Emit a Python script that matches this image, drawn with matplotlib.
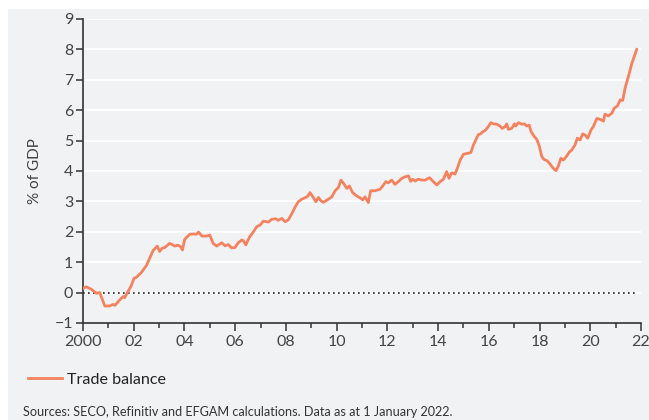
import matplotlib
matplotlib.use("Agg")
import matplotlib.pyplot as plt
from matplotlib.patches import Rectangle
from matplotlib.ticker import MultipleLocator, FixedLocator

# decimal-year dates and trade balance (% of GDP)
dates = [
    2000.00, 2000.13, 2000.33, 2000.52, 2000.66, 2000.86, 2001.05, 2001.18, 2001.26, 2001.45,
    2001.58, 2001.64, 2001.77, 2001.90, 2002.01, 2002.10, 2002.30, 2002.50, 2002.63, 2002.76,
    2002.93, 2003.02, 2003.12, 2003.22, 2003.42, 2003.62, 2003.75, 2003.85, 2003.92, 2004.01,
    2004.21, 2004.38, 2004.47, 2004.56, 2004.69, 2004.86, 2005.00, 2005.13, 2005.27, 2005.47,
    2005.60, 2005.73, 2005.86, 2005.99, 2006.12, 2006.26, 2006.32, 2006.42, 2006.56, 2006.72,
    2006.85, 2006.98, 2007.11, 2007.31, 2007.44, 2007.60, 2007.70, 2007.84, 2007.97, 2008.10,
    2008.23, 2008.36, 2008.49, 2008.62, 2008.75, 2008.84, 2008.95, 2009.08, 2009.18, 2009.28,
    2009.38, 2009.48, 2009.67, 2009.81, 2009.94, 2010.07, 2010.17, 2010.26, 2010.40, 2010.50,
    2010.63, 2010.79, 2010.92, 2011.03, 2011.12, 2011.25, 2011.34, 2011.51, 2011.71, 2011.82,
    2011.94, 2012.04, 2012.17, 2012.30, 2012.43, 2012.57, 2012.70, 2012.83, 2012.92, 2013.00,
    2013.09, 2013.22, 2013.36, 2013.49, 2013.66, 2013.79, 2013.95, 2014.08, 2014.21, 2014.34,
    2014.43, 2014.54, 2014.67, 2014.76, 2014.87, 2015.00, 2015.17, 2015.29, 2015.39, 2015.50,
    2015.59, 2015.67, 2015.76, 2015.85, 2015.98, 2016.08, 2016.18, 2016.31, 2016.44, 2016.53,
    2016.64, 2016.71, 2016.77, 2016.90, 2017.01, 2017.06, 2017.17, 2017.30, 2017.40, 2017.50,
    2017.59, 2017.67, 2017.78, 2017.89, 2017.99, 2018.09, 2018.18, 2018.31, 2018.41, 2018.54,
    2018.65, 2018.74, 2018.84, 2018.94, 2019.07, 2019.18, 2019.27, 2019.40, 2019.49, 2019.60,
    2019.70, 2019.80, 2019.90, 2020.03, 2020.12, 2020.26, 2020.39, 2020.52, 2020.58, 2020.71,
    2020.85, 2020.94, 2021.07, 2021.18, 2021.28, 2021.37, 2021.50, 2021.64, 2021.83,
]
trade_balance = [
    0.14, 0.19, 0.11, -0.02, 0.00, -0.44, -0.44, -0.39, -0.42, -0.24,
    -0.13, -0.17, 0.03, 0.22, 0.47, 0.50, 0.66, 0.89, 1.13, 1.38,
    1.53, 1.35, 1.46, 1.48, 1.62, 1.53, 1.56, 1.51, 1.40, 1.75,
    1.92, 1.93, 1.92, 1.99, 1.86, 1.86, 1.89, 1.62, 1.53, 1.64,
    1.54, 1.58, 1.47, 1.48, 1.64, 1.73, 1.71, 1.57, 1.82, 2.00,
    2.17, 2.22, 2.35, 2.32, 2.41, 2.43, 2.38, 2.44, 2.33, 2.40,
    2.59, 2.81, 2.99, 3.07, 3.12, 3.15, 3.29, 3.13, 2.99, 3.13,
    3.02, 2.97, 3.07, 3.15, 3.35, 3.46, 3.70, 3.61, 3.43, 3.51,
    3.29, 3.18, 3.12, 3.05, 3.15, 2.96, 3.35, 3.35, 3.40, 3.51,
    3.65, 3.61, 3.70, 3.56, 3.65, 3.76, 3.81, 3.84, 3.66, 3.73,
    3.67, 3.73, 3.70, 3.70, 3.78, 3.67, 3.54, 3.65, 3.73, 3.98,
    3.76, 3.94, 3.90, 4.09, 4.36, 4.55, 4.58, 4.61, 4.85, 5.05,
    5.20, 5.22, 5.29, 5.33, 5.46, 5.59, 5.55, 5.54, 5.48, 5.40,
    5.46, 5.55, 5.37, 5.40, 5.55, 5.48, 5.59, 5.54, 5.55, 5.48,
    5.51, 5.29, 5.15, 5.04, 4.82, 4.47, 4.38, 4.33, 4.23, 4.09,
    4.01, 4.16, 4.42, 4.36, 4.49, 4.63, 4.69, 4.86, 5.08, 5.02,
    5.22, 5.18, 5.08, 5.35, 5.46, 5.73, 5.70, 5.64, 5.87, 5.81,
    5.90, 6.06, 6.14, 6.34, 6.32, 6.72, 7.10, 7.54, 8.00,
]

x_ticks = [2000, 2002, 2004, 2006, 2008, 2010, 2012, 2014, 2016, 2018, 2020, 2022]
x_labels = ["2000", "02", "04", "06", "08", "10", "12", "14", "16", "18", "20", "22"]
y_ticks = [-1, 0, 1, 2, 3, 4, 5, 6, 7, 8, 9]

BG = "#f1f2f4"
LINE = "#f5825e"
TXT = "#444444"

plt.rcParams["font.family"] = ["Lato", "DejaVu Sans"]

fig = plt.figure(figsize=(6.49, 4.20), dpi=100, facecolor="white")
fig.patches.append(Rectangle((8 / 649, 0), 1 - 8 / 649, 1 - 9 / 420,
                             transform=fig.transFigure, facecolor=BG,
                             edgecolor="none", zorder=-5))

ax = fig.add_axes([83 / 649, 1 - 323 / 420, 558 / 649, 304 / 420])
ax.set_facecolor(BG)
ax.set_xlim(2000, 2022)
ax.set_ylim(-1, 9)

for y in y_ticks[1:]:
    ax.axhline(y, color="white", lw=1.4, zorder=1)
ax.plot([2000, 2021.9], [0, 0], color="#222222", lw=1.2, ls=(0, (1, 2)), zorder=2)
ax.plot(dates, trade_balance, color=LINE, lw=2.0, zorder=3, label="Trade balance")

for s in ("top", "right"):
    ax.spines[s].set_visible(False)
for s in ("left", "bottom"):
    ax.spines[s].set_color("#333333")
    ax.spines[s].set_linewidth(1.2)

ax.yaxis.set_major_locator(FixedLocator(y_ticks))
ax.xaxis.set_major_locator(FixedLocator(x_ticks))
ax.set_xticklabels(x_labels)
ax.xaxis.set_minor_locator(MultipleLocator(1))
ax.tick_params(axis="y", direction="out", length=5, width=1.1, color="#333333",
               labelsize=11.5, labelcolor=TXT, pad=2)
ax.tick_params(axis="x", which="major", direction="out", length=6, width=1.1,
               color="#333333", labelsize=11.5, labelcolor=TXT, pad=3)
ax.tick_params(axis="x", which="minor", direction="out", length=3.5, width=1.1,
               color="#333333")
ax.set_ylabel("% of GDP", fontsize=11, color=TXT, labelpad=9)

leg = fig.legend(loc="upper left", bbox_to_anchor=(22 / 649, 1 - 366 / 420), frameon=False,
                 handlelength=2.1, handletextpad=0.3, fontsize=11.6, borderaxespad=0)
for t in leg.get_texts():
    t.set_color("#222222")

fig.text(23 / 649, 1 - 412 / 420, "Sources: SECO, Refinitiv and EFGAM calculations. Data as at 1 January 2022.",
         fontsize=9.1, color="#333333", va="center", ha="left")

fig.savefig("out.png", dpi=100, facecolor="white")
